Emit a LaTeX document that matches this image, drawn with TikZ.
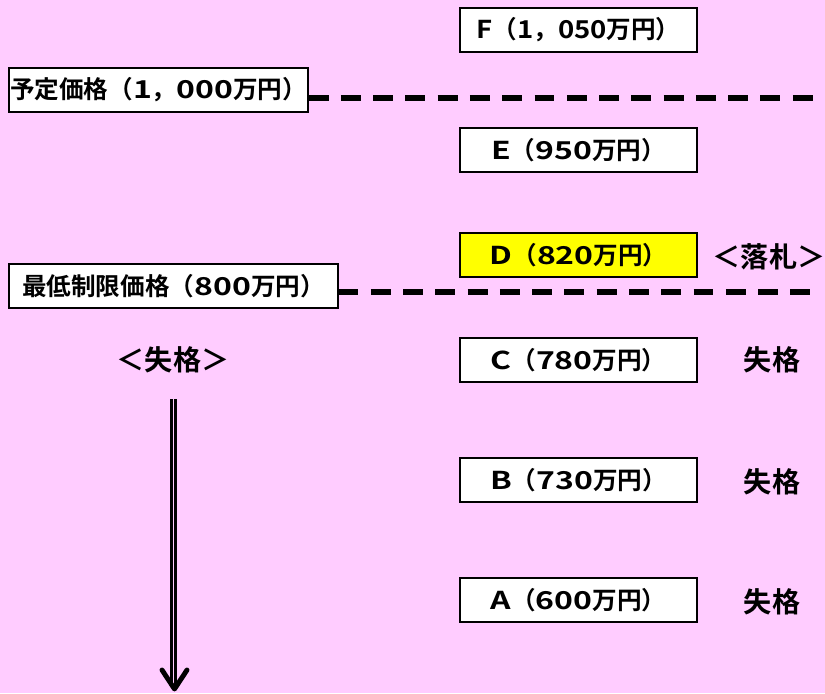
\documentclass[tikz,border=0pt]{standalone}
\usepackage{fontspec}
\usetikzlibrary{calc}
\newfontfamily\jpb{Noto Sans CJK JP Bold}
\newfontfamily\jpwide{Noto Sans CJK JP Bold}[FakeStretch=1.3]
\newfontfamily\jpnarrow{Noto Sans CJK JP Bold}[FakeStretch=1.12]
\newcommand{\lat}[1]{{\jpwide #1}}
\newcommand{\latn}[1]{{\jpnarrow #1}}
\definecolor{bgpink}{RGB}{255,204,255}
\definecolor{bidyellow}{RGB}{255,255,0}
\tikzset{
  pricebox/.style={draw, line width=1.7pt, fill=white, minimum width=203pt, minimum height=37.4pt, inner sep=0pt},
  limitbox/.style={draw, line width=1.7pt, fill=white, minimum height=37.4pt, inner sep=0pt},
  limitline/.style={line width=5.6pt, dash pattern=on 17pt off 10.55pt},
  verdict/.style={inner sep=0pt, font=\jpb\fontsize{24}{28}\selectfont},
}
\begin{document}
\begin{tikzpicture}[x=0.03cm, y=-0.03cm, font=\jpb\fontsize{21}{25}\selectfont]
    \fill[bgpink] (0,0) rectangle (825,693);
    \useasboundingbox (0,0) rectangle (825,693);

    % bidders
    \node[pricebox] (F) at (578.5, 30) {\latn{F}（\latn{1}，\latn{050}万円）};
    \node[pricebox] (E) at (578.5, 150) {\lat{E}（\lat{950}万円）};
    \node[pricebox, fill=bidyellow] (D) at (578.5, 255) {\lat{D}（\lat{820}万円）};
    \node[pricebox] (C) at (578.5, 360) {\lat{C}（\lat{780}万円）};
    \node[pricebox] (B) at (578.5, 480) {\lat{B}（\lat{730}万円）};
    \node[pricebox] (A) at (578.5, 600) {\lat{A}（\lat{600}万円）};

    % results
    \node[verdict] (Dres) at (769, 257) {＜落札＞};
    \node[verdict] (Cres) at (772, 360) {失格};
    \node[verdict] (Bres) at (772, 482) {失格};
    \node[verdict] (Ares) at (772, 602) {失格};

    % price limits
    \node[limitbox, minimum width=254.5pt] (yotei) at (158.5, 90) {予定価格（\lat{1}，\lat{000}万円）};
    \node[limitbox, minimum width=280pt] (saitei) at (173.5, 286) {最低制限価格（\lat{800}万円）};
    \coordinate (yoteiend) at (816, 98);
    \coordinate (saiteiend) at (813, 292);
    \draw[limitline] (yotei.east |- yoteiend) -- (yoteiend);
    \draw[limitline] (saitei.east |- saiteiend) -- (saiteiend);

    % below the limit
    \node[verdict] (fail) at (173, 360) {＜失格＞};
    \coordinate (failtop) at (173.8, 399);
    \coordinate (failtip) at (174.5, 689);
    \draw[double=bgpink, double distance=1pt, line width=2.4pt] (failtop) -- (failtop |- {$(failtip)+(0,-4)$});
    \draw[line width=4.2pt, line cap=round, line join=round] ($(failtip)+(-12.5,-19)$) -- (failtip) -- ($(failtip)+(12.5,-19)$);
\end{tikzpicture}
\end{document}
